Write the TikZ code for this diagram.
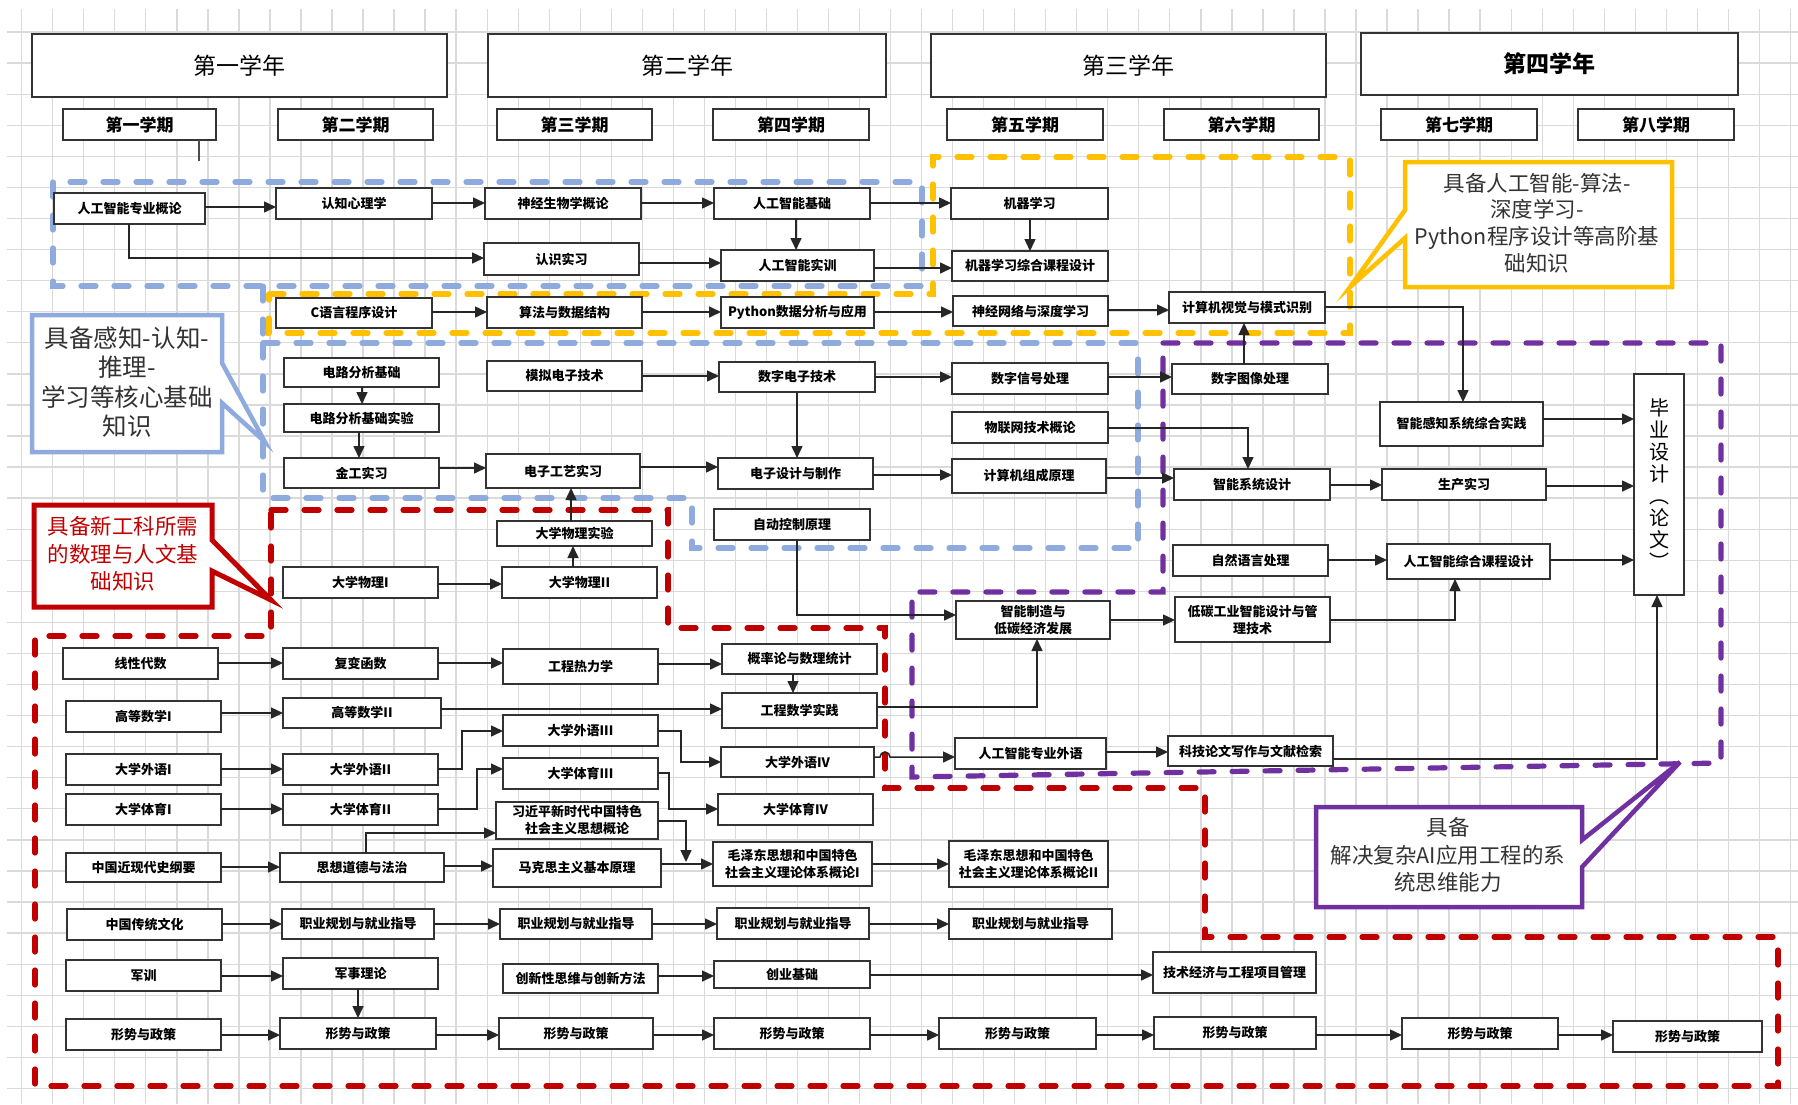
\documentclass[tikz,border=0pt]{standalone}
\usepackage{fontspec}
\setmainfont{Noto Sans CJK SC}
\usetikzlibrary{arrows.meta}
\definecolor{gblue}{RGB}{143,170,220}
\definecolor{gyellow}{RGB}{255,192,0}
\definecolor{gpurple}{RGB}{112,48,160}
\definecolor{gred}{RGB}{192,0,0}
\definecolor{gridc}{RGB}{218,218,218}
\tikzset{
  cbx/.style={draw=black!80, line width=1.8pt, fill=white, inner sep=1pt, outer sep=0pt,
    align=center, text=black, font=\fontsize{13}{17}\selectfont\bfseries},
  hdr/.style={cbx, font=\fontsize{23}{26}\selectfont},
  hdrb/.style={cbx, font=\fontsize{23}{26}\selectfont\bfseries},
  sem/.style={cbx, font=\fontsize{17}{20}\selectfont\bfseries},
  thes/.style={cbx, font=\fontsize{20}{22}\selectfont},
  conn/.style={draw=black!85, line width=1.5pt, -{Triangle[length=12pt,width=11pt]}},
  grp/.style={line width=5.2pt, dash pattern=on 15pt off 18pt, line cap=round},
  gridl/.style={draw=gridc, line width=1.3pt},
  callout/.style={fill=white, line width=4.5pt, line join=miter},
  ctext/.style={align=center, text=black!80}
}
\newcommand\anybox[7]{\node[#1, minimum width={#5pt-#3pt}, minimum height={#6pt-#4pt}] (#2) at ({(#3+#5)/2},{(#4+#6)/2}) {#7};}
\newcommand\crsbox[6]{\anybox{cbx}{#1}{#2}{#3}{#4}{#5}{#6}}
\newcommand\hc[3]{\draw[conn] (#1.east |- 0,#3) -- (#2.west |- 0,#3);}
\newcommand\vdn[3]{\draw[conn] (#1.south -| #3,0) -- (#2.north -| #3,0);}
\newcommand\vup[3]{\draw[conn] (#1.north -| #3,0) -- (#2.south -| #3,0);}
\begin{document}
\begin{tikzpicture}[x=1pt,y=-1pt]
\useasboundingbox (0,0) rectangle (1798,1104);
\fill[white] (0,0) rectangle (1798,1104);
% grid
\foreach \i in {0,...,57} \draw[gridl] ({21.7+31.03*\i},9) -- ({21.7+31.03*\i},1104);
\foreach \j in {1,...,35} \draw[gridl] (7,{1+31.07*\j}) -- (1798,{1+31.07*\j});

% dashed groups
\draw[grp, draw=gblue] (53,182) rectangle (922,286);
\draw[grp, draw=gblue] (263,343) -- (1138,343) -- (1138,548) -- (692,548) -- (692,498) -- (263,498) -- cycle;
\draw[grp, draw=gblue] (263,286) -- (263,343);
\draw[grp, draw=gyellow] (269,294) -- (933,294) -- (933,157) -- (1350,157) -- (1350,333) -- (269,333) -- cycle;
\draw[grp, draw=gpurple] (1163,343) -- (1721,343) -- (1721,763) -- (912,777) -- (912,592) -- (1163,592) -- cycle;
\draw[grp, draw=gred] (271,510) -- (668,510) -- (668,628) -- (885,628) -- (885,788) -- (1205,788) -- (1205,937) -- (1778,937) -- (1778,1086) -- (35,1086) -- (35,636) -- (271,636) -- cycle;

% headers
\anybox{hdr}{y1}{32}{34}{447}{97}{第一学年}
\anybox{hdr}{y2}{488}{34}{886}{97}{第二学年}
\anybox{hdr}{y3}{931}{34}{1326}{97}{第三学年}
\anybox{hdrb}{y4}{1361}{33}{1738}{95}{第四学年}
\anybox{sem}{s1}{63}{109}{216}{140}{第一学期}
\anybox{sem}{s2}{278}{109}{433}{140}{第二学期}
\anybox{sem}{s3}{497}{109}{652}{140}{第三学期}
\anybox{sem}{s4}{713}{109}{869}{140}{第四学期}
\anybox{sem}{s5}{947}{109}{1103}{140}{第五学期}
\anybox{sem}{s6}{1164}{109}{1319}{140}{第六学期}
\anybox{sem}{s7}{1381}{109}{1537}{140}{第七学期}
\anybox{sem}{s8}{1578}{109}{1734}{140}{第八学期}
\draw[black!70, line width=1.2pt] (s1.south -| 199,0) -- (199,161);

% courses
\crsbox{aiintro}{54}{193}{205}{224}{人工智能专业概论}
\crsbox{cogpsy}{276}{188}{432}{219}{认知心理学}
\crsbox{neuro}{485}{188}{641}{219}{神经生物学概论}
\crsbox{aibase}{714}{188}{870}{219}{人工智能基础}
\crsbox{cogprac}{484}{243}{639}{275}{认识实习}
\crsbox{aitrain}{721}{250}{874}{281}{人工智能实训}
\crsbox{ml}{951}{188}{1108}{219}{机器学习}
\crsbox{mlcd}{952}{251}{1108}{281}{机器学习综合课程设计}
\crsbox{clang}{276}{298}{432}{328}{C语言程序设计}
\crsbox{algo}{487}{297}{642}{328}{算法与数据结构}
\crsbox{pyda}{721}{297}{874}{328}{Python数据分析与应用}
\crsbox{nndl}{953}{296}{1108}{326}{神经网络与深度学习}
\crsbox{cvpr}{1169}{292}{1325}{323}{计算机视觉与模式识别}
\crsbox{circ}{284}{358}{439}{387}{电路分析基础}
\crsbox{circlab}{284}{404}{439}{432}{电路分析基础实验}
\crsbox{metal}{284}{458}{439}{488}{金工实习}
\crsbox{analog}{487}{361}{642}{391}{模拟电子技术}
\crsbox{digital}{719}{362}{875}{392}{数字电子技术}
\crsbox{etech}{486}{454}{640}{488}{电子工艺实习}
\crsbox{edesign}{718}{458}{873}{489}{电子设计与制作}
\crsbox{autoctl}{714}{509}{870}{540}{自动控制原理}
\crsbox{physlab}{497}{521}{652}{546}{大学物理实验}
\crsbox{phys2}{502}{567}{657}{598}{大学物理II}
\crsbox{phys1}{283}{567}{438}{598}{大学物理I}
\crsbox{dsp}{952}{363}{1108}{394}{数字信号处理}
\crsbox{dip}{1172}{364}{1328}{394}{数字图像处理}
\crsbox{iot}{952}{412}{1108}{443}{物联网技术概论}
\crsbox{coa}{952}{459}{1106}{493}{计算机组成原理}
\crsbox{isd}{1174}{469}{1330}{500}{智能系统设计}
\crsbox{nlp}{1173}{545}{1328}{576}{自然语言处理}
\crsbox{imfg}{956}{601}{1110}{639}{智能制造与\\低碳经济发展}
\crsbox{lowc}{1175}{597}{1330}{642}{低碳工业智能设计与管\\理技术}
\crsbox{isp}{1380}{402}{1543}{446}{智能感知系统综合实践}
\crsbox{prod}{1382}{469}{1546}{500}{生产实习}
\crsbox{aicd}{1387}{544}{1550}{579}{人工智能综合课程设计}
\anybox{thes}{thesis}{1634}{374}{1684}{595}{毕\\业\\设\\计\\︵\\论\\文\\︶}
\crsbox{linalg}{63}{648}{218}{679}{线性代数}
\crsbox{complex}{283}{648}{438}{679}{复变函数}
\crsbox{math1}{66}{701}{221}{732}{高等数学I}
\crsbox{math2}{283}{698}{441}{728}{高等数学II}
\crsbox{thermo}{503}{649}{658}{684}{工程热力学}
\crsbox{prob}{722}{644}{877}{674}{概率论与数理统计}
\crsbox{engmath}{722}{693}{877}{728}{工程数学实践}
\crsbox{fl1}{66}{754}{221}{785}{大学外语I}
\crsbox{fl2}{283}{754}{438}{785}{大学外语II}
\crsbox{fl3}{503}{715}{658}{746}{大学外语III}
\crsbox{fl4}{721}{747}{874}{777}{大学外语IV}
\crsbox{pe1}{66}{794}{221}{825}{大学体育I}
\crsbox{pe2}{283}{794}{438}{825}{大学体育II}
\crsbox{pe3}{503}{758}{658}{789}{大学体育III}
\crsbox{pe4}{718}{794}{873}{825}{大学体育IV}
\crsbox{xi}{496}{802}{658}{839}{习近平新时代中国特色\\社会主义思想概论}
\crsbox{hist}{66}{853}{221}{882}{中国近现代史纲要}
\crsbox{moral}{280}{853}{444}{882}{思想道德与法治}
\crsbox{marx}{493}{849}{661}{887}{马克思主义基本原理}
\crsbox{mao1}{713}{842}{872}{886}{毛泽东思想和中国特色\\社会主义理论体系概论I}
\crsbox{mao2}{949}{841}{1108}{887}{毛泽东思想和中国特色\\社会主义理论体系概论II}
\crsbox{trad}{67}{909}{222}{940}{中国传统文化}
\crsbox{car2}{282}{909}{434}{939}{职业规划与就业指导}
\crsbox{car3}{500}{909}{652}{939}{职业规划与就业指导}
\crsbox{car4}{717}{908}{869}{939}{职业规划与就业指导}
\crsbox{car5}{949}{909}{1112}{939}{职业规划与就业指导}
\crsbox{mil}{66}{960}{221}{991}{军训}
\crsbox{milth}{283}{958}{438}{989}{军事理论}
\crsbox{innov}{503}{964}{658}{993}{创新性思维与创新方法}
\crsbox{entre}{714}{961}{870}{988}{创业基础}
\crsbox{techeco}{1153}{952}{1316}{993}{技术经济与工程项目管理}
\crsbox{pol1}{66}{1019}{221}{1050}{形势与政策}
\crsbox{pol2}{280}{1018}{436}{1049}{形势与政策}
\crsbox{pol3}{499}{1018}{653}{1049}{形势与政策}
\crsbox{pol4}{714}{1018}{870}{1049}{形势与政策}
\crsbox{pol5}{939}{1018}{1096}{1049}{形势与政策}
\crsbox{pol6}{1154}{1017}{1316}{1049}{形势与政策}
\crsbox{pol7}{1402}{1018}{1558}{1049}{形势与政策}
\crsbox{pol8}{1613}{1021}{1762}{1052}{形势与政策}
\crsbox{aiesp}{955}{738}{1106}{769}{人工智能专业外语}
\crsbox{paper}{1168}{736}{1333}{766}{科技论文写作与文献检索}

% connectors
\hc{aiintro}{cogpsy}{207}
\hc{cogpsy}{neuro}{203}
\hc{neuro}{aibase}{203}
\hc{aibase}{ml}{203}
\vdn{aibase}{aitrain}{796}
\draw[conn] (aiintro.south -| 129,0) |- (cogprac.west |- 0,258);
\hc{cogprac}{aitrain}{263}
\hc{aitrain}{mlcd}{268}
\vdn{ml}{mlcd}{1030}
\hc{clang}{algo}{312}
\hc{algo}{pyda}{312}
\hc{pyda}{nndl}{312}
\hc{nndl}{cvpr}{310}
\draw[conn] (cvpr.east |- 0,307) -| (isp.north -| 1463,0);
\vup{dip}{cvpr}{1244}
\vdn{circ}{circlab}{362}
\vdn{circlab}{metal}{359}
\hc{metal}{etech}{468}
\hc{analog}{digital}{376}
\hc{digital}{dsp}{377}
\vdn{digital}{edesign}{797}
\hc{etech}{edesign}{467}
\hc{edesign}{coa}{475}
\hc{dsp}{dip}{377}
\draw[conn] (iot.east |- 0,428) -| (isd.north -| 1248,0);
\hc{coa}{isd}{478}
\hc{isd}{prod}{485}
\hc{isp}{thesis}{419}
\hc{prod}{thesis}{486}
\hc{aicd}{thesis}{560}
\hc{nlp}{aicd}{560}
\draw[conn] (lowc.east |- 0,620) -| (aicd.south -| 1455,0);
\hc{imfg}{lowc}{620}
\draw[conn] (autoctl.south -| 797,0) |- (imfg.west |- 0,615);
\draw[conn] (engmath.east |- 0,707) -| (imfg.south -| 1037,0);
\hc{math2}{engmath}{709}
\hc{complex}{thermo}{663}
\hc{linalg}{complex}{663}
\hc{thermo}{prob}{664}
\vdn{prob}{engmath}{793}
\hc{math1}{math2}{713}
\hc{phys1}{phys2}{584}
\vup{phys2}{physlab}{573}
\vup{physlab}{etech}{571}
\hc{fl1}{fl2}{769}
\draw[conn] (fl2.east |- 0,769) -- (462,769) -- (462,731) -- (fl3.west |- 0,731);
\hc{pe1}{pe2}{809}
\draw[conn] (pe2.east |- 0,809) -- (477,809) -- (477,769) -- (pe3.west |- 0,769);
\draw[conn] (fl3.east |- 0,731) -- (681,731) -- (681,762) -- (fl4.west |- 0,762);
\draw[conn] (pe3.east |- 0,773) -- (669,773) -- (669,809) -- (pe4.west |- 0,809);
\draw[conn] (moral.north -| 366,0) |- (xi.west |- 0,833);
\hc{moral}{marx}{866}
\hc{hist}{moral}{867}
\hc{marx}{mao1}{864}
\coordinate (xijoin) at (686,862);
\draw[conn] (xi.east |- 0,821) -| (xijoin);
\hc{mao1}{mao2}{864}
\hc{trad}{car2}{924}
\hc{car2}{car3}{924}
\hc{car3}{car4}{924}
\hc{car4}{car5}{924}
\hc{mil}{milth}{976}
\vdn{milth}{pol2}{358}
\hc{innov}{entre}{976}
\hc{entre}{techeco}{975}
\hc{pol1}{pol2}{1035}
\hc{pol2}{pol3}{1035}
\hc{pol3}{pol4}{1035}
\hc{pol4}{pol5}{1035}
\hc{pol5}{pol6}{1035}
\hc{pol6}{pol7}{1035}
\hc{pol7}{pol8}{1035}
\draw[conn] (fl4.east |- 0,757) -- (880,757) arc[start angle=180, end angle=360, radius=5] -- (aiesp.west |- 0,757);
\hc{aiesp}{paper}{752}
\draw[conn] (paper.east |- 0,759) -| (thesis.south -| 1657,0);

% callouts
\draw[callout, draw=gblue] (32,315) -- (222,315) -- (222,363) -- (265,442) -- (222,403) -- (222,452) -- (32,452) -- cycle;
\node[ctext, font=\fontsize{24.5}{29.5}\selectfont] (tblue) at (127,382) {具备感知-认知-\\推理-\\学习等核心基础\\知识};
\draw[callout, draw=gred, line width=5pt] (34,505) -- (212,505) -- (212,540) -- (271,600) -- (212,571) -- (212,607) -- (34,607) -- cycle;
\node[ctext, text=gred, font=\fontsize{21.5}{27.5}\selectfont] (tred) at (123,554) {具备新工科所需\\的数理与人文基\\础知识};
\draw[callout, draw=gyellow] (1405,162) -- (1672,162) -- (1672,287) -- (1405,287) -- (1405,238) -- (1350,287) -- (1405,210) -- cycle;
\node[ctext, font=\fontsize{21.5}{26.7}\selectfont] (tyel) at (1537,223) {具备人工智能-算法-\\深度学习-\\Python程序设计等高阶基\\础知识};
\draw[callout, draw=gpurple] (1316,807) -- (1582,807) -- (1582,840) -- (1680,762) -- (1582,867) -- (1582,907) -- (1316,907) -- cycle;
\node[ctext, font=\fontsize{21.5}{27.5}\selectfont] (tpur) at (1448,855) {具备\\解决复杂AI应用工程的系\\统思维能力};
\end{tikzpicture}
\end{document}
